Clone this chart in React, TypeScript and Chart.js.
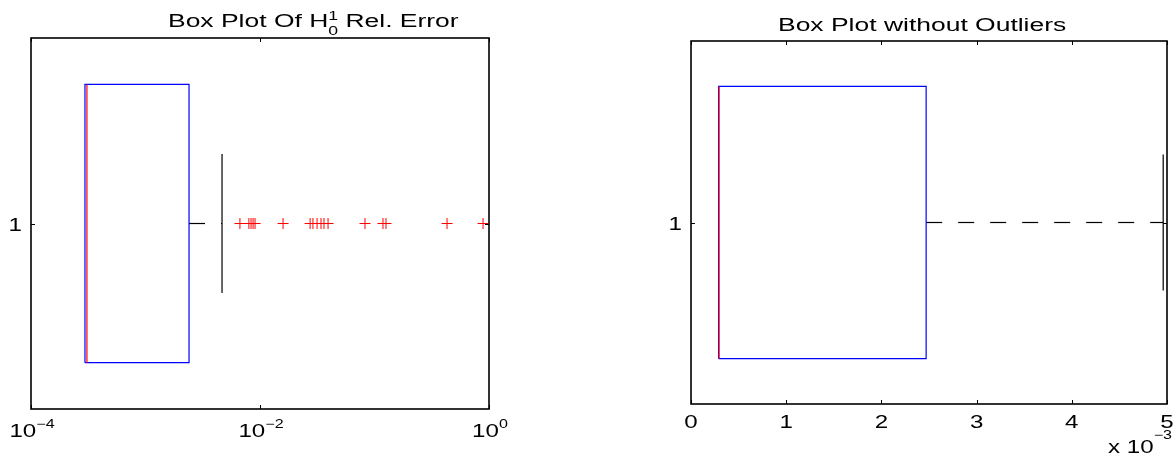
import { useEffect, useRef } from "react";
import { Chart, registerables } from "chart.js";

Chart.register(...registerables);

// ---- Full sample (log axis panel) ----
const fullQ1 = 2.96e-4;
const fullMedian = 3.08e-4;
const fullQ3 = 2.4e-3;
const fullLowerWhisker = 2.96e-4;
const fullUpperWhisker = 4.66e-3;
const fullOutliers = [
  6.68e-3, 8.0e-3, 8.35e-3, 8.7e-3, 9.05e-3, 0.0159, 0.0274, 0.029, 0.0315,
  0.0341, 0.0362, 0.0393, 0.0826, 0.1186, 0.126, 0.43, 0.887,
];
const fullTickValues = [1e-4, 1e-2, 1];
const fullTickExponents = ["\u22124", "\u22122", "0"];

// ---- Sample with outliers removed (linear axis panel) ----
const trimQ1 = 0.29e-3;
const trimMedian = 0.295e-3;
const trimQ3 = 2.47e-3;
const trimLowerWhisker = 0.29e-3;
const trimUpperWhisker = 4.96e-3;
const trimTickValues = [0, 1e-3, 2e-3, 3e-3, 4e-3, 5e-3];
const trimTickLabels = ["0", "1", "2", "3", "4", "5"];

// Group position on the category axis
const groupValues = [1];
const groupLabels = ["1"];

const BOX_HALF = 0.375;
const CAP_HALF = 0.1875;
const FONT = '"Liberation Sans", Arial, Helvetica, sans-serif';
const SX = 1.34; // horizontal stretch of the glyphs
const TITLE_SX = 1.47;

type Part =
  | { t: string; size: number; dy?: number }
  | { sub: string; sup: string; size: number; subDy: number; supDy: number };

function drawParts(
  ctx: CanvasRenderingContext2D,
  parts: Part[],
  x: number,
  y: number,
  align: "left" | "center" | "right",
  sx: number
) {
  const widths = parts.map((p) => {
    ctx.font = `${p.size}px ${FONT}`;
    if ("t" in p) return ctx.measureText(p.t).width;
    return Math.max(ctx.measureText(p.sub).width, ctx.measureText(p.sup).width);
  });
  const total = widths.reduce((a, b) => a + b, 0) * sx;
  const start = align === "left" ? x : align === "center" ? x - total / 2 : x - total;
  ctx.save();
  ctx.translate(start, y);
  ctx.scale(sx, 1);
  ctx.fillStyle = "#000";
  ctx.textAlign = "left";
  ctx.textBaseline = "alphabetic";
  let cx = 0;
  parts.forEach((p, i) => {
    ctx.font = `${p.size}px ${FONT}`;
    if ("t" in p) {
      ctx.fillText(p.t, cx, p.dy || 0);
    } else {
      ctx.fillText(p.sub, cx, p.subDy);
      ctx.fillText(p.sup, cx, p.supDy);
    }
    cx += widths[i];
  });
  ctx.restore();
}

function boxDatasets(
  q1: number,
  med: number,
  q3: number,
  lo: number,
  hi: number,
  outliers: number[]
) {
  const y0 = groupValues[0];
  const lines: any[] = [
    {
      label: "median",
      data: [
        { x: med, y: y0 - BOX_HALF },
        { x: med, y: y0 + BOX_HALF },
      ],
      borderColor: "#ff0000",
      order: 0,
    },
    {
      label: "box",
      data: [
        { x: q1, y: y0 - BOX_HALF },
        { x: q3, y: y0 - BOX_HALF },
        { x: q3, y: y0 + BOX_HALF },
        { x: q1, y: y0 + BOX_HALF },
        { x: q1, y: y0 - BOX_HALF },
      ],
      borderColor: "#0000ff",
      order: 1,
    },
    {
      label: "upper whisker",
      data: [
        { x: q3, y: y0 },
        { x: hi, y: y0 },
      ],
      borderColor: "#000",
      borderDash: [16, 16],
      order: 2,
    },
    {
      label: "upper cap",
      data: [
        { x: hi, y: y0 - CAP_HALF },
        { x: hi, y: y0 + CAP_HALF },
      ],
      borderColor: "#000",
      order: 3,
    },
  ];
  // the lower whisker collapses onto the box edge when lo equals q1
  if (lo < q1) {
    lines.push(
      {
        label: "lower whisker",
        data: [
          { x: lo, y: y0 },
          { x: q1, y: y0 },
        ],
        borderColor: "#000",
        borderDash: [16, 16],
        order: 2,
      },
      {
        label: "lower cap",
        data: [
          { x: lo, y: y0 - CAP_HALF },
          { x: lo, y: y0 + CAP_HALF },
        ],
        borderColor: "#000",
        order: 3,
      }
    );
  }
  const sets: any[] = lines.map((d) => ({
    ...d,
    showLine: true,
    pointRadius: 0,
    borderWidth: 1.2,
    fill: false,
    tension: 0,
  }));
  if (outliers.length) {
    sets.push({
      label: "outliers",
      data: outliers.map((v) => ({ x: v, y: y0 })),
      showLine: false,
      pointStyle: "cross",
      pointRadius: 5.5,
      pointBorderColor: "#ff0000",
      pointBackgroundColor: "#ff0000",
      pointBorderWidth: 1,
      order: 0,
    });
  }
  return sets;
}

type PanelCfg = {
  xType: "logarithmic" | "linear";
  xMin: number;
  xMax: number;
  padding: { left: number; right: number; top: number; bottom: number };
  datasets: any[];
  decorate: (chart: any) => void;
};

function axesFrame(chart: any, xTicks: number[]) {
  const { ctx, chartArea: a, scales } = chart;
  ctx.save();
  ctx.strokeStyle = "#000";
  ctx.lineWidth = 1;
  const tl = 4;
  ctx.beginPath();
  xTicks.forEach((v) => {
    const px = Math.round(scales.x.getPixelForValue(v)) + 0.5;
    ctx.moveTo(px, a.bottom);
    ctx.lineTo(px, a.bottom - tl);
    ctx.moveTo(px, a.top);
    ctx.lineTo(px, a.top + tl);
  });
  groupValues.forEach((v) => {
    const py = Math.round(scales.y.getPixelForValue(v)) + 0.5;
    ctx.moveTo(a.left, py);
    ctx.lineTo(a.left + tl, py);
    ctx.moveTo(a.right, py);
    ctx.lineTo(a.right - tl, py);
  });
  ctx.stroke();
  ctx.lineWidth = 1.6;
  ctx.strokeRect(a.left, a.top, a.right - a.left, a.bottom - a.top);
  ctx.restore();
}

function Panel({ cfg, style }: { cfg: PanelCfg; style: any }) {
  const ref = useRef<HTMLCanvasElement | null>(null);
  useEffect(() => {
    if (!ref.current) return;
    const chart = new Chart(ref.current, {
      type: "scatter",
      data: { datasets: cfg.datasets },
      options: {
        animation: false,
        responsive: false,
        maintainAspectRatio: false,
        devicePixelRatio: 1,
        layout: { padding: cfg.padding },
        plugins: {
          legend: { display: false },
          tooltip: { enabled: false },
          title: { display: false },
        },
        scales: {
          x: { type: cfg.xType, min: cfg.xMin, max: cfg.xMax, display: false },
          y: { type: "linear", min: 0.5, max: 1.5, display: false },
        },
      },
      plugins: [
        {
          id: "panelDecor",
          afterDraw: (c: any) => cfg.decorate(c),
        },
      ],
    } as any);
    return () => chart.destroy();
  }, [cfg]);
  return <canvas ref={ref} width={588} height={457} style={style} />;
}

const leftCfg: PanelCfg = {
  xType: "logarithmic",
  xMin: fullTickValues[0],
  xMax: fullTickValues[fullTickValues.length - 1],
  padding: { left: 31, right: 99, top: 38, bottom: 48 },
  datasets: boxDatasets(fullQ1, fullMedian, fullQ3, fullLowerWhisker, fullUpperWhisker, fullOutliers),
  decorate: (chart: any) => {
    const { ctx, scales } = chart;
    axesFrame(chart, fullTickValues);
    fullTickValues.forEach((v, i) => {
      drawParts(
        ctx,
        [
          { t: "10", size: 18 },
          { t: fullTickExponents[i], size: 12, dy: -9 },
        ],
        scales.x.getPixelForValue(v) + 1,
        437,
        "center",
        SX
      );
    });
    groupValues.forEach((v, i) => {
      drawParts(ctx, [{ t: groupLabels[i], size: 18 }], 22, scales.y.getPixelForValue(v) + 7, "right", SX);
    });
    drawParts(
      ctx,
      [
        { t: "Box Plot Of H", size: 18 },
        { sub: "0", sup: "1", size: 12, subDy: 8, supDy: -7 },
        { t: " Rel. Error", size: 18 },
      ],
      168,
      27,
      "left",
      TITLE_SX
    );
  },
};

const rightCfg: PanelCfg = {
  xType: "linear",
  xMin: trimTickValues[0],
  xMax: trimTickValues[trimTickValues.length - 1],
  padding: { left: 103, right: 9, top: 41, bottom: 53 },
  datasets: boxDatasets(trimQ1, trimMedian, trimQ3, trimLowerWhisker, trimUpperWhisker, []),
  decorate: (chart: any) => {
    const { ctx, scales } = chart;
    axesFrame(chart, trimTickValues);
    trimTickValues.forEach((v, i) => {
      drawParts(ctx, [{ t: trimTickLabels[i], size: 18 }], scales.x.getPixelForValue(v), 428, "center", SX);
    });
    drawParts(
      ctx,
      [
        { t: "x 10", size: 18 },
        { t: "\u22123", size: 12, dy: -14 },
      ],
      584,
      453,
      "right",
      SX
    );
    groupValues.forEach((v, i) => {
      drawParts(ctx, [{ t: groupLabels[i], size: 18 }], 94, scales.y.getPixelForValue(v) + 7, "right", SX);
    });
    drawParts(ctx, [{ t: "Box Plot without Outliers", size: 18 }], 190, 31, "left", TITLE_SX);
  },
};

export default function App() {
  return (
    <div
      style={{
        position: "fixed",
        left: 0,
        top: 0,
        width: 1176,
        height: 457,
        background: "#fff",
        overflow: "hidden",
      }}
    >
      <Panel cfg={leftCfg} style={{ position: "absolute", left: 0, top: 0 }} />
      <Panel cfg={rightCfg} style={{ position: "absolute", left: 588, top: 0 }} />
    </div>
  );
}
